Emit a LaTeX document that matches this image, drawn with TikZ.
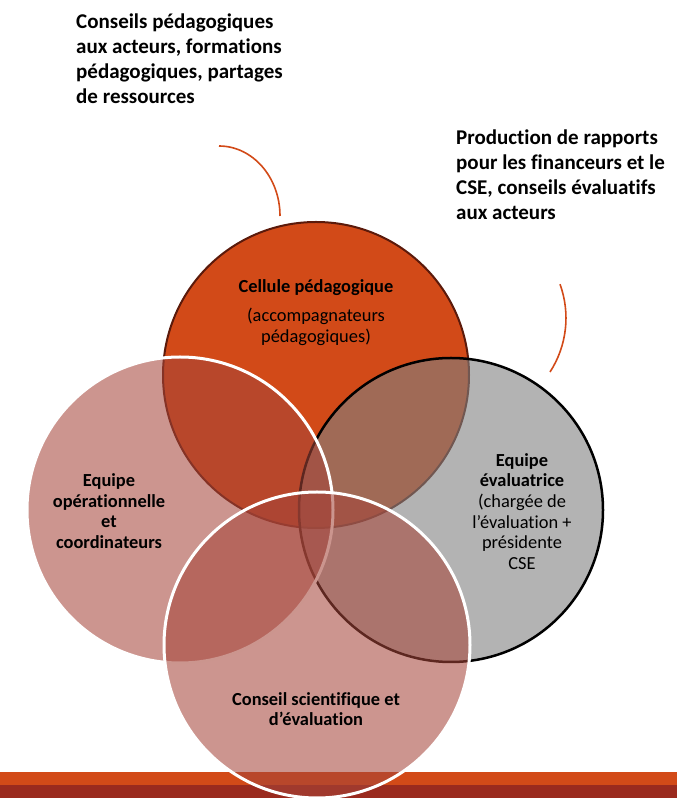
\documentclass[tikz,border=0pt]{standalone}
\usepackage{fontspec}
\setmainfont{Carlito}[Ligatures=NoCommon]
\usetikzlibrary{positioning}
\definecolor{cellorange}{HTML}{D24A18}
\definecolor{cellborder}{HTML}{5B1A0B}
\definecolor{barred}{HTML}{9A2A1E}
\definecolor{rosefill}{RGB}{165,69,58}
\definecolor{evalgray}{RGB}{128,128,128}
\begin{document}
\begin{tikzpicture}[x=1pt,y=1pt,
  cellule/.style={draw=cellborder, line width=2pt, fill=cellorange},
  evalcircle/.style={draw=black, line width=2.5pt, fill=evalgray, fill opacity=0.6},
  rose/.style={draw=white, line width=3pt, fill=rosefill, fill opacity=0.57},
  venntext/.style={font=\fontsize{18.4}{20.6}\selectfont, align=center, inner sep=0pt},
  notetext/.style={font=\bfseries\fontsize{21}{25}\selectfont, align=left, anchor=north west, inner sep=0pt},
  leader/.style={draw=cellorange, line width=1.6pt}]
\useasboundingbox (0,0) rectangle (677,798);
\fill[cellorange] (0,13) rectangle (677,26);
\fill[barred] (0,0) rectangle (677,13);
\draw[cellule] (316,423) circle[radius=153pt];
\draw[evalcircle] (451,288) circle[radius=152pt];
\draw[rose] (180,288) circle[radius=153pt];
\draw[rose] (317,153) circle[radius=153pt];
\draw[leader] (219,652) arc[start angle=90, end angle=0, x radius=61pt, y radius=70pt];
\draw[leader] (550,426) arc[start angle=-33, end angle=20, radius=99pt];
\node[venntext] (cellule) at (316,485.5) {\textbf{Cellule pédagogique}\\[9pt](accompagnateurs\\pédagogiques)};
\node[venntext] (operation) at (109,287) {\textbf{Equipe}\\\textbf{opérationnelle}\\\textbf{et}\\\textbf{coordinateurs}};
\node[venntext] (evaluation) at (522,286.5) {\textbf{Equipe}\\\textbf{évaluatrice}\\(chargée de\\l’évaluation +\\présidente\\CSE};
\node[venntext] (conseil) at (316,89) {\textbf{Conseil scientifique et}\\\textbf{d’évaluation}};
\node[notetext] (pedanote) at (76,784) {Conseils pédagogiques\\aux acteurs, formations\\pédagogiques, partages\\de ressources};
\node[notetext] (evalnote) at (456,668) {Production de rapports\\pour les financeurs et le\\CSE, conseils évaluatifs\\aux acteurs};
\end{tikzpicture}
\end{document}
